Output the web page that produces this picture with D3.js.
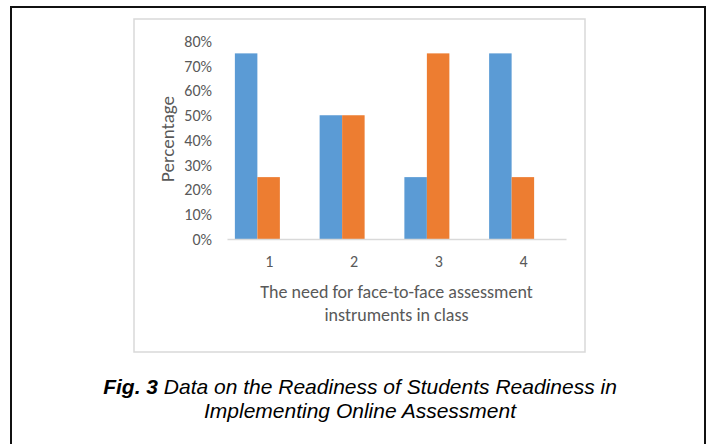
<!DOCTYPE html>
<html>
<head>
<meta charset="utf-8">
<script src="https://cdn.jsdelivr.net/npm/d3@7"></script>
<style>
  body { margin: 0; background: #fff; }
  svg { display: block; }
</style>
</head>
<body>
<div id="chart"></div>
<script>
// chart data
const categories = ["1", "2", "3", "4"];
const seriesBlue = [0.75, 0.50, 0.25, 0.75];
const seriesOrange = [0.25, 0.50, 0.75, 0.25];
const yTicks = [0, 0.1, 0.2, 0.3, 0.4, 0.5, 0.6, 0.7, 0.8];
const xTitleLines = ["The need for face-to-face assessment", "instruments in class"];
const yTitle = "Percentage";
const captionBold = "Fig. 3";
const captionLine1 = " Data on the Readiness of Students Readiness in";
const captionLine2 = "Implementing Online Assessment";

const W = 707, H = 444;
const plot = { left: 227, right: 566, top: 41, bottom: 239 };
const barW = 22.5;
const groupShift = -12; // bars sit a little left of the category label
const chartFont = "Carlito, Calibri, Lato, sans-serif";
const textGray = "#595959";

const svg = d3.select("#chart")
  .append("svg")
  .attr("width", W)
  .attr("height", H);

/** outer frame and chart frame */
svg.append("rect")
  .attr("x", 11).attr("y", 7)
  .attr("width", 694).attr("height", 460)
  .attr("fill", "none")
  .attr("stroke", "#111")
  .attr("stroke-width", 2);

svg.append("rect")
  .attr("x", 134).attr("y", 19)
  .attr("width", 451).attr("height", 333)
  .attr("fill", "#fff")
  .attr("stroke", "#d9d9d9")
  .attr("stroke-width", 1.5);

/** scales */
const x = d3.scaleBand()
  .domain(categories)
  .range([plot.left, plot.right])
  .padding(0);

const y = d3.scaleLinear()
  .domain([0, 0.8])
  .range([plot.bottom, plot.top]);

/** y tick labels */
svg.append("g")
  .selectAll("text")
  .data(yTicks)
  .enter()
  .append("text")
  .attr("x", 212)
  .attr("y", d => y(d))
  .attr("dy", "0.36em")
  .attr("text-anchor", "end")
  .attr("fill", textGray)
  .style("font-family", chartFont)
  .style("font-size", "16px")
  .text(d => d3.format(".0%")(d));

/** bars */
const bars = svg.append("g");
const blueColor = "#5b9bd5", orangeColor = "#ed7d31";

bars.selectAll("rect.blue")
  .data(seriesBlue)
  .enter()
  .append("rect")
  .attr("class", "blue")
  .attr("x", (d, i) => x(categories[i]) + x.bandwidth() / 2 + groupShift - barW)
  .attr("y", d => y(d))
  .attr("width", barW)
  .attr("height", d => y(0) - y(d))
  .attr("fill", blueColor);

bars.selectAll("rect.orange")
  .data(seriesOrange)
  .enter()
  .append("rect")
  .attr("class", "orange")
  .attr("x", (d, i) => x(categories[i]) + x.bandwidth() / 2 + groupShift)
  .attr("y", d => y(d))
  .attr("width", barW)
  .attr("height", d => y(0) - y(d))
  .attr("fill", orangeColor);

/** x axis line and labels */
const xAxis = d3.axisBottom(x).tickSize(0).tickPadding(17);
const xg = svg.append("g")
  .attr("transform", "translate(0," + plot.bottom + ")")
  .call(xAxis);
xg.select("path.domain")
  .attr("stroke", "#d9d9d9")
  .attr("stroke-width", 1.5);
xg.selectAll("text")
  .attr("fill", textGray)
  .style("font-family", chartFont)
  .style("font-size", "16px");

/** axis titles */
svg.append("g")
  .selectAll("text")
  .data(xTitleLines)
  .enter()
  .append("text")
  .attr("x", (plot.left + plot.right) / 2)
  .attr("y", (d, i) => 298 + i * 23)
  .attr("text-anchor", "middle")
  .attr("fill", textGray)
  .style("font-family", chartFont)
  .style("font-size", "18px")
  .text(d => d);

svg.append("text")
  .attr("transform", "translate(174,139) rotate(-90)")
  .attr("text-anchor", "middle")
  .attr("fill", textGray)
  .style("font-family", chartFont)
  .style("font-size", "19px")
  .text(yTitle);

/** caption */
const cap = svg.append("g")
  .style("font-family", "'Liberation Sans', Arial, sans-serif")
  .style("font-style", "italic")
  .style("font-size", "21px")
  .attr("fill", "#000");

const l1 = cap.append("text")
  .attr("x", 360)
  .attr("y", 394)
  .attr("text-anchor", "middle");
l1.append("tspan").style("font-weight", "bold").text(captionBold);
l1.append("tspan").text(captionLine1);

cap.append("text")
  .attr("x", 360)
  .attr("y", 418)
  .attr("text-anchor", "middle")
  .text(captionLine2);
</script>
</body>
</html>
